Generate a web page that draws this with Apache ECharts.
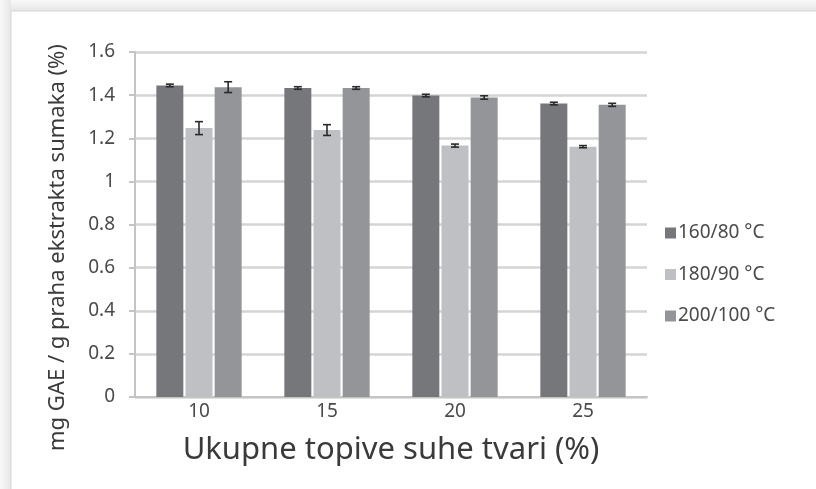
<!DOCTYPE html>
<html>
<head>
<meta charset="utf-8">
<script src="https://cdn.jsdelivr.net/npm/echarts@6/dist/echarts.min.js"></script>
<style>html,body{margin:0;padding:0;background:#fff;}#c{width:816px;height:489px;}</style>
</head>
<body>
<div id="c"></div>
<script>
var categories = ['10', '15', '20', '25'];
var seriesNames = ['160/80 °C', '180/90 °C', '200/100 °C'];
var values160 = [1.445, 1.433, 1.398, 1.361];
var values180 = [1.247, 1.238, 1.166, 1.161];
var values200 = [1.437, 1.433, 1.389, 1.355];
var errors160 = [0.006, 0.006, 0.006, 0.006];
var errors180 = [0.030, 0.025, 0.007, 0.005];
var errors200 = [0.025, 0.006, 0.008, 0.007];
var yTicks = [0, 0.2, 0.4, 0.6, 0.8, 1, 1.2, 1.4, 1.6];

var colors = ['#76777b', '#bfc0c3', '#949598'];
var font = 'Noto Sans';
var barWidth = 27;
var barGapPx = 2.16;

var allValues = [values160, values180, values200];
var allErrors = [errors160, errors180, errors200];

var chart = echarts.init(document.getElementById('c'));

var series = [];
seriesNames.forEach(function (name, i) {
  series.push({
    name: name,
    type: 'bar',
    data: allValues[i],
    barWidth: barWidth,
    barGap: '8%',
    itemStyle: { color: colors[i] },
    emphasis: { disabled: true }
  });
});
seriesNames.forEach(function (name, i) {
  var offset = (i - 1) * (barWidth + barGapPx);
  series.push({
    type: 'custom',
    name: name + ' err',
    z: 10,
    silent: true,
    data: allValues[i].map(function (v, k) { return [k, v, allErrors[i][k]]; }),
    renderItem: function (params, api) {
      var k = api.value(0), v = api.value(1), e = api.value(2);
      var hi = api.coord([k, v + e]);
      var lo = api.coord([k, v - e]);
      var x = hi[0] + offset;
      var cap = 4;
      var st = { stroke: '#2a2a2a', lineWidth: 1.6 };
      return {
        type: 'group',
        children: [
          { type: 'line', shape: { x1: x, y1: hi[1], x2: x, y2: lo[1] }, style: st },
          { type: 'line', shape: { x1: x - cap, y1: hi[1], x2: x + cap, y2: hi[1] }, style: st },
          { type: 'line', shape: { x1: x - cap, y1: lo[1], x2: x + cap, y2: lo[1] }, style: st }
        ]
      };
    }
  });
});

chart.setOption({
  backgroundColor: '#ffffff',
  animation: false,
  textStyle: { fontFamily: font },
  graphic: [
    {
      type: 'rect', z: -10, silent: true,
      shape: { x: 0, y: 0, width: 816, height: 11 },
      style: { fill: new echarts.graphic.LinearGradient(0, 0, 0, 1, [
        { offset: 0, color: '#f8f8f8' }, { offset: 1, color: '#e6e6e6' }]) }
    },
    {
      type: 'rect', z: -10, silent: true,
      shape: { x: 0, y: 0, width: 11, height: 489 },
      style: { fill: new echarts.graphic.LinearGradient(0, 0, 1, 0, [
        { offset: 0, color: '#f8f8f8' }, { offset: 1, color: '#e6e6e6' }]) }
    },
    {
      type: 'polyline', z: -9, silent: true,
      shape: { points: [[11, 489], [11, 11], [816, 11]] },
      style: { fill: 'none', stroke: '#d6d6d6', lineWidth: 1 }
    }
  ],
  grid: { left: 135, right: 169, top: 52, bottom: 92, containLabel: false },
  legend: {
    orient: 'vertical',
    left: 660,
    top: 218,
    itemWidth: 11,
    itemHeight: 11,
    itemGap: 21.5,
    icon: 'rect',
    data: seriesNames,
    textStyle: { fontFamily: font, fontSize: 19, color: '#4a4a4a', lineHeight: 20, padding: [0, 0, 0, -3] }
  },
  xAxis: {
    type: 'category',
    data: categories,
    name: 'Ukupne topive suhe tvari (%)',
    nameLocation: 'middle',
    nameGap: 38,
    nameTextStyle: { fontFamily: font, fontSize: 31, color: '#3a3a3a' },
    axisLine: { lineStyle: { color: '#c4c4c4', width: 2 } },
    axisTick: { show: false },
    axisLabel: { fontFamily: font, fontSize: 19, color: '#4a4a4a', margin: 5 }
  },
  yAxis: {
    type: 'value',
    min: 0,
    max: 1.6,
    interval: 0.2,
    name: 'mg GAE / g praha ekstrakta sumaka (%)',
    nameLocation: 'middle',
    nameGap: 66,
    nameTextStyle: { fontFamily: font, fontSize: 22, color: '#3a3a3a', padding: [0, 46, 0, 0] },
    axisLine: { show: true, lineStyle: { color: '#c4c4c4', width: 2 } },
    axisTick: { show: true, length: 6, inside: false, lineStyle: { color: '#c4c4c4', width: 2 } },
    splitLine: { lineStyle: { color: '#d4d4d4', width: 2.5 } },
    axisLabel: {
      fontFamily: font, fontSize: 19, color: '#4a4a4a', margin: 20,
      formatter: function (v) {
        var t = yTicks.filter(function (y) { return Math.abs(y - v) < 1e-9; });
        return t.length ? String(t[0]) : '';
      }
    }
  },
  series: series
});
</script>
</body>
</html>
